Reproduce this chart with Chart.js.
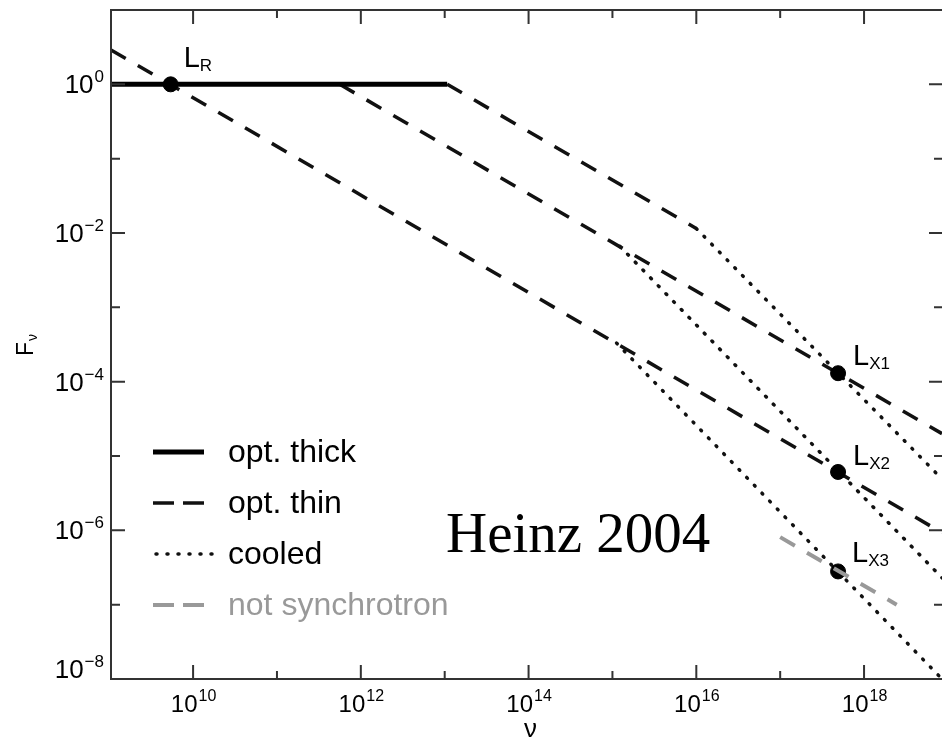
<!DOCTYPE html>
<html>
<head>
<meta charset="utf-8">
<script src="https://cdn.jsdelivr.net/npm/chart.js@4"></script>
<style>
  body { margin: 0; background: #fff; }
  canvas { display: block; }
</style>
</head>
<body>
<canvas id="sed" width="942" height="742"></canvas>
<script>
// frequencies (Hz) and flux values
const nuThick = [1.05e9, 1.07e13];
const fThick = [1, 1];
const nuThinA = [1.05e9, 8.5e18];
const fThinA = [2.9, 9.3e-7];
const nuThinB = [5.6e11, 8.5e18];
const fThinB = [1, 2.0e-5];
const nuThinC = [1.07e13, 1.0e16];
const fThinC = [1, 1.15e-2];
const nuCoolA = [1.12e15, 8.5e18];
const fCoolA = [3.3e-4, 1.0e-8];
const nuCoolB = [1.23e15, 8.5e18];
const fCoolB = [6.6e-3, 2.3e-7];
const nuCoolC = [1.0e16, 8.5e18];
const fCoolC = [1.15e-2, 4.9e-6];
const nuNonSync = [1.0e17, 2.45e18];
const fNonSync = [8.1e-7, 1.0e-7];

const pointNames = ["R", "X1", "X2", "X3"];
const pointNu = [5.4e9, 4.9e17, 4.9e17, 4.9e17];
const pointF = [1, 1.3e-4, 6.1e-6, 2.8e-7];

const xTickExps = [10, 12, 14, 16, 18];
const yTickExps = [0, -2, -4, -6, -8];
const legendLabels = ["opt. thick", "opt. thin", "cooled", "not synchrotron"];

const solidStyle = { borderColor: "#000", borderWidth: 5, borderCapStyle: "butt" };
const dashStyle = { borderColor: "#111", borderWidth: 3.5, borderDash: [17, 14], borderCapStyle: "butt" };
const dotStyle = { borderColor: "#111", borderWidth: 3.5, borderDash: [1, 10], borderCapStyle: "round" };
const greyStyle = { borderColor: "#999", borderWidth: 4, borderDash: [17, 14], borderCapStyle: "butt" };

function seg(nu, f, style, order) {
    return Object.assign({
        data: nu.map((v, i) => ({ x: v, y: f[i] })),
        showLine: true,
        pointRadius: 0,
        fill: false,
        tension: 0,
        order: order
    }, style);
}

const SANS = "'Liberation Sans', Arial, Helvetica, sans-serif";

function drawPow(ctx, exp, x, baseline, align, baseSize, expSize) {
    const e = exp < 0 ? "\u2212" + Math.abs(exp) : String(exp);
    ctx.font = baseSize + "px " + SANS;
    const wb = ctx.measureText("10").width;
    ctx.font = expSize + "px " + SANS;
    const we = ctx.measureText(e).width;
    let left = align === "center" ? x - (wb + we) / 2 : x - wb - we;
    ctx.textAlign = "left";
    ctx.font = baseSize + "px " + SANS;
    ctx.fillText("10", left, baseline);
    ctx.font = expSize + "px " + SANS;
    ctx.fillText(e, left + wb + 1, baseline - 11);
}

const framePlugin = {
    id: "frame",
    afterDraw(chart) {
        const { ctx, chartArea: a, scales: { x, y } } = chart;
        ctx.save();
        ctx.strokeStyle = "#333";
        ctx.lineWidth = 2;
        ctx.beginPath();
        ctx.moveTo(a.right + 2, a.top);
        ctx.lineTo(a.left, a.top);
        ctx.lineTo(a.left, a.bottom);
        ctx.lineTo(a.right + 2, a.bottom);
        // inward ticks, longer on even decades
        for (let e = 9; e <= 18; e++) {
            const px = x.getPixelForValue(Math.pow(10, e));
            if (px < a.left + 2 || px > a.right - 1) continue;
            const len = e % 2 === 0 ? 14 : 8;
            ctx.moveTo(px, a.bottom); ctx.lineTo(px, a.bottom - len);
            ctx.moveTo(px, a.top); ctx.lineTo(px, a.top + len);
        }
        for (let e = -7; e <= 0; e++) {
            const py = y.getPixelForValue(Math.pow(10, e));
            const len = e % 2 === 0 ? 14 : 9;
            ctx.moveTo(a.left, py); ctx.lineTo(a.left + len, py);
            ctx.moveTo(a.right, py); ctx.lineTo(a.right - len + 1, py);
        }
        ctx.stroke();

        ctx.fillStyle = "#000";
        xTickExps.forEach(e => {
            drawPow(ctx, e, x.getPixelForValue(Math.pow(10, e)), 712, "center", 24, 16);
        });
        yTickExps.forEach(e => {
            const py = Math.min(y.getPixelForValue(Math.pow(10, e)), a.bottom - 10);
            drawPow(ctx, e, 103, py + 9, "right", 26, 17);
        });

        // axis titles
        ctx.textAlign = "left";
        ctx.font = "26px " + SANS;
        ctx.fillText("\u03bd", 524, 737);
        ctx.save();
        ctx.translate(33, 356);
        ctx.rotate(-Math.PI / 2);
        ctx.font = "23px " + SANS;
        ctx.fillText("F", 0, 0);
        const fw = ctx.measureText("F").width;
        ctx.font = "14px " + SANS;
        ctx.fillText("\u03bd", fw + 1, 4);
        ctx.restore();

        // point labels
        const offs = [[13, -17], [15, -8], [15, -7], [14, -9]];
        pointNames.forEach((n, i) => {
            const px = x.getPixelForValue(pointNu[i]) + offs[i][0];
            const py = y.getPixelForValue(pointF[i]) + offs[i][1];
            ctx.font = "29px " + SANS;
            ctx.fillText("L", px, py);
            const lw = ctx.measureText("L").width;
            ctx.font = "17px " + SANS;
            ctx.fillText(n, px + lw, py + 4);
        });

        // legend
        const rows = [452, 503, 554, 605];
        const styles = [solidStyle, dashStyle, dotStyle, greyStyle];
        const dashes = [[], [21, 9], [1, 10], [21, 9]];
        legendLabels.forEach((lab, i) => {
            const st = styles[i];
            ctx.beginPath();
            ctx.strokeStyle = st.borderColor;
            ctx.lineWidth = st.borderWidth;
            ctx.lineCap = st.borderCapStyle;
            ctx.setLineDash(dashes[i]);
            ctx.moveTo(i === 2 ? 156 : 153, rows[i]);
            ctx.lineTo(i === 2 ? 213 : 204, rows[i]);
            ctx.stroke();
            ctx.setLineDash([]);
            ctx.fillStyle = i === 3 ? "#999" : "#000";
            ctx.font = "32px " + SANS;
            ctx.fillText(lab, 228, rows[i] + 10);
        });

        ctx.fillStyle = "#000";
        ctx.font = "57px 'Liberation Serif', 'Times New Roman', serif";
        ctx.fillText("Heinz 2004", 446, 552);
        ctx.restore();
    }
};

new Chart(document.getElementById("sed"), {
    type: "scatter",
    data: {
        datasets: [
            seg(nuNonSync, fNonSync, greyStyle, 0),
            {
                data: pointNu.map((v, i) => ({ x: v, y: pointF[i] })),
                pointRadius: 7.5,
                pointBackgroundColor: "#000",
                pointBorderColor: "#000",
                showLine: false,
                order: 1
            },
            seg(nuThick, fThick, solidStyle, 2),
            seg(nuThinA, fThinA, dashStyle, 2),
            seg(nuThinB, fThinB, dashStyle, 2),
            seg(nuThinC, fThinC, dashStyle, 2),
            seg(nuCoolA, fCoolA, dotStyle, 2),
            seg(nuCoolB, fCoolB, dotStyle, 2),
            seg(nuCoolC, fCoolC, dotStyle, 2)
        ]
    },
    options: {
        responsive: false,
        animation: false,
        events: [],
        layout: { autoPadding: false, padding: { left: 111, top: 10, right: 0, bottom: 63 } },
        plugins: { legend: { display: false }, tooltip: { enabled: false } },
        scales: {
            x: { type: "logarithmic", display: false, min: 1.05e9, max: 8.5e18 },
            y: { type: "logarithmic", display: false, min: 1e-8, max: 10 }
        }
    },
    plugins: [framePlugin]
});
</script>
</body>
</html>
